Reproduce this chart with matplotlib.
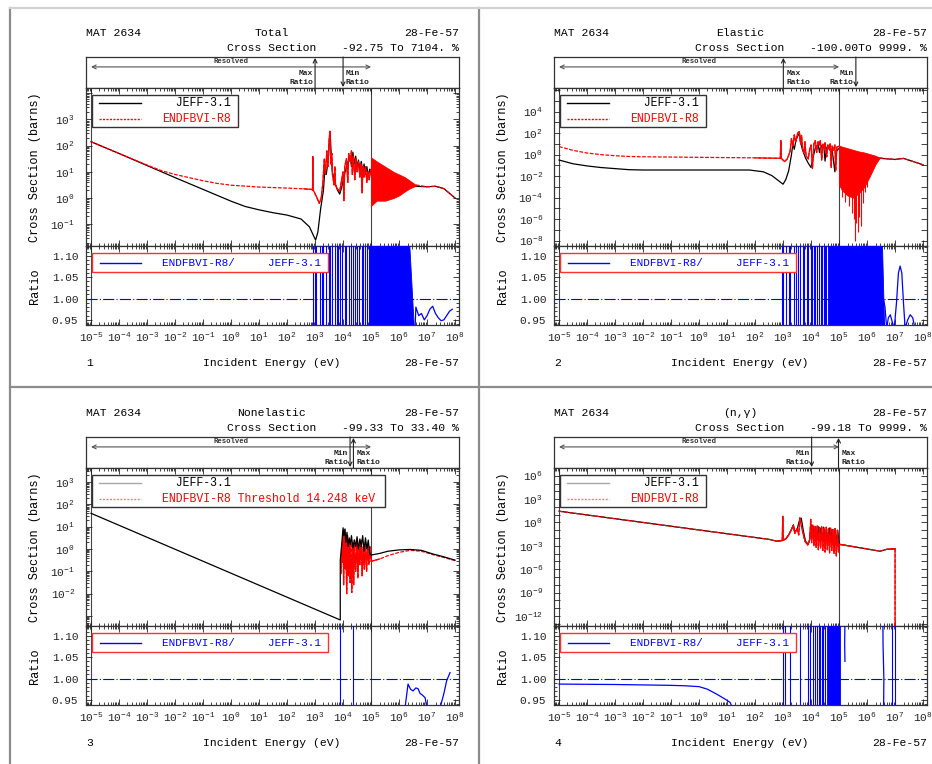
import numpy as np
import matplotlib
matplotlib.use("Agg")
import matplotlib.pyplot as plt
import matplotlib.ticker as mticker
from matplotlib.patches import Rectangle
from matplotlib.lines import Line2D

plt.rcParams['font.family'] = ['Liberation Mono', 'DejaVu Sans Mono', 'DejaVu Sans']
plt.rcParams['mathtext.fontset'] = 'custom'
plt.rcParams['mathtext.rm'] = 'Liberation Mono'
plt.rcParams['mathtext.it'] = 'Liberation Mono'
plt.rcParams['mathtext.bf'] = 'Liberation Mono:bold'

# ---------------------------------------------------------------- data
# all pairs are (log10 E [eV], log10 value)
# Panel 1 : Total
tot_jeff = [(-5.0, 2.15), (-4.0, 1.70), (-3.0, 1.24), (-2.0, 0.78), (-1.0, 0.33), (0.0, -0.12),
            (0.5, -0.32), (1.0, -0.45), (1.5, -0.56), (2.0, -0.65), (2.5, -0.8), (2.8, -1.1),
            (2.95, -1.45), (3.02, -1.6), (3.1, -1.3), (3.2, -0.4), (3.3, 0.3), (3.35, 1.1),
            (3.4, 0.9), (3.45, 1.3), (3.5, 2.0), (3.54, 2.45), (3.58, 1.6), (3.62, 1.0),
            (3.7, 0.6), (3.8, 0.3), (3.88, 0.15), (3.95, 0.4), (4.05, 0.9), (4.15, 1.3),
            (4.25, 1.6), (4.3, 1.2), (4.35, 1.75), (4.4, 1.3), (4.45, 1.6), (4.5, 1.2),
            (4.55, 1.45), (4.6, 1.1), (4.65, 1.4), (4.7, 1.0), (4.75, 1.3), (4.8, 0.9),
            (4.85, 1.2), (4.9, 0.8), (4.95, 1.1), (5.0, 1.0), (5.5, 0.85), (6.0, 0.7),
            (6.5, 0.45), (7.0, 0.43), (7.3, 0.45), (7.6, 0.36), (8.0, 0.0)]
tot_endf = [(-5.0, 2.15), (-4.0, 1.70), (-3.0, 1.26), (-2.5, 1.05), (-2.0, 0.9), (-1.5, 0.78),
            (-1.0, 0.66), (-0.5, 0.56), (0.0, 0.49), (1.0, 0.42), (2.0, 0.38), (2.6, 0.35),
            (2.88, 0.33), (2.91, 0.3), (2.92, 1.58), (2.93, 0.3), (2.96, 0.25), (3.05, 0.05),
            (3.15, -0.2), (3.22, 0.0), (3.28, 0.6), (3.33, 1.5), (3.37, 0.9), (3.42, 1.8),
            (3.46, 1.2), (3.5, 2.2), (3.53, 2.55), (3.56, 1.3), (3.6, 1.7), (3.62, 0.9),
            (3.68, 0.5), (3.71, 1.2), (3.73, 0.5), (3.8, 0.35), (3.88, 0.25), (3.95, 0.7),
            (4.0, 1.0), (4.03, -0.1), (4.06, 1.2), (4.12, 1.5), (4.17, 0.6), (4.2, 1.7),
            (4.25, 1.4), (4.3, 1.8), (4.33, 0.9), (4.37, 1.6), (4.42, 0.7), (4.46, 1.5),
            (4.5, 1.0), (4.55, 1.4), (4.6, 0.8), (4.64, 1.3), (4.68, 0.2), (4.71, 1.2),
            (4.75, 0.8), (4.8, 1.2), (4.85, 0.6), (4.89, 1.0), (4.93, 0.7), (5.0, 1.1)]
tot_endf_band_E = [5.0, 5.2, 5.5, 5.8, 6.0, 6.2, 6.4, 6.6]
tot_endf_band_hi = [1.55, 1.4, 1.2, 1.0, 0.9, 0.8, 0.65, 0.5]
tot_endf_band_lo = [-0.3, -0.1, -0.1, 0.0, 0.1, 0.25, 0.38, 0.47]
tot_endf_tail = [(6.6, 0.5), (7.0, 0.43), (7.3, 0.45), (7.6, 0.36), (8.0, 0.0)]
tot_ratio_spikes = [2.94, 2.98, 3.05, 3.18, 3.24, 3.3, 3.38, 3.48, 3.55, 3.62, 3.7, 3.77,
                    3.83, 3.9, 3.97, 4.07, 4.12, 4.2, 4.28, 4.37, 4.42, 4.5, 4.58, 4.67,
                    4.72, 4.8, 4.86, 4.92]
tot_ratio_block = [4.96, 6.32, 6.57]          # start, end at top, end at bottom
tot_ratio_tail = [(6.57, 0.93), (6.6, 0.98), (6.7, 0.96), (6.8, 0.965), (6.9, 0.95),
                  (7.0, 0.96), (7.1, 0.975), (7.2, 0.982), (7.3, 0.965), (7.4, 0.955),
                  (7.5, 0.948), (7.6, 0.95), (7.7, 0.96), (7.8, 0.97), (7.9, 0.975)]

# Panel 2 : Elastic
el_jeff = [(-5.0, -0.5), (-4.5, -0.85), (-4.0, -1.05), (-3.5, -1.2), (-3.0, -1.3), (-2.5, -1.4),
           (-2.0, -1.43), (0.0, -1.43), (1.8, -1.43), (2.3, -1.6), (2.6, -1.95), (2.85, -2.45),
           (3.0, -2.75), (3.1, -2.3), (3.2, -1.5), (3.3, 0.0), (3.35, 1.0), (3.4, 0.5),
           (3.45, 1.2), (3.5, 1.6), (3.58, 2.0), (3.62, 1.2), (3.7, 0.4), (3.8, -0.3),
           (3.9, -0.8), (4.0, -1.2), (4.05, -0.5), (4.15, 0.6), (4.25, 1.0), (4.3, 0.2),
           (4.35, 0.9), (4.4, 0.6), (4.45, 0.9), (4.5, -0.6), (4.55, 0.6), (4.6, 0.8),
           (4.7, 0.3), (4.75, 0.5), (4.85, -1.6), (4.9, 0.3), (5.0, 0.6), (5.5, 0.1),
           (6.0, -0.15), (6.5, -0.35), (7.0, -0.45), (7.3, -0.35), (7.6, -0.6), (8.0, -0.95)]
el_endf = [(-5.0, 0.75), (-4.5, 0.4), (-4.0, 0.15), (-3.5, 0.0), (-3.0, -0.1), (-2.5, -0.17),
           (-2.0, -0.2), (0.0, -0.25), (2.0, -0.3), (2.9, -0.34), (2.92, 1.3), (2.94, -0.36),
           (2.98, -0.45), (3.05, -0.65), (3.15, -0.4), (3.25, 0.3), (3.3, 1.5), (3.35, 0.8),
           (3.4, 1.84), (3.45, 1.2), (3.52, 2.0), (3.58, 2.15), (3.63, 1.0), (3.66, 1.8),
           (3.7, 0.5), (3.75, 0.2), (3.78, 1.2), (3.82, -0.1), (3.9, -0.4), (3.95, 0.5),
           (4.0, 0.9), (4.05, -1.3), (4.1, 1.0), (4.15, 1.3), (4.2, 0.2), (4.25, 1.2),
           (4.3, 0.9), (4.33, 1.3), (4.38, -0.5), (4.42, 1.0), (4.48, 0.6), (4.5, 1.1),
           (4.56, -0.2), (4.6, 0.9), (4.65, 0.5), (4.68, 1.0), (4.72, -1.2), (4.75, 0.8),
           (4.8, 0.4), (4.85, 0.9), (4.88, -1.5), (4.92, 0.7), (5.0, 0.8)]
el_endf_band_E = [5.0, 5.1, 5.3, 5.5, 5.7, 5.9, 6.1, 6.3, 6.45]
el_endf_band_hi = [0.85, 0.75, 0.6, 0.45, 0.3, 0.2, 0.05, -0.1, -0.3]
el_endf_band_lo = [-2.8, -3.3, -3.8, -4.0, -3.6, -3.0, -2.0, -0.9, -0.3]
el_endf_dips = [(5.12, -3.9), (5.22, -4.4), (5.35, -4.8), (5.45, -5.4), (5.52, -6.0),
                (5.57, -8.0), (5.62, -6.4), (5.66, -7.2), (5.72, -5.8), (5.78, -6.6),
                (5.85, -4.5), (5.92, -3.5), (6.0, -3.0)]
el_endf_tail = [(6.45, -0.3), (6.8, -0.4), (7.0, -0.45), (7.3, -0.35), (7.6, -0.6), (8.0, -0.95)]
el_ratio_spikes = [2.95, 3.0, 3.1, 3.2, 3.25, 3.4, 3.45, 3.55, 3.6, 3.7, 3.75, 3.85, 3.9,
                   4.0, 4.05, 4.1, 4.15, 4.2, 4.3, 4.35, 4.4, 4.45, 4.5, 4.55]
el_ratio_block = [4.62, 6.52, 6.64]
el_ratio_tail = [(6.58, 1.0), (6.64, 0.98), (6.7, 0.93), (6.76, 0.955), (6.83, 0.962),
                 (6.9, 0.945), (6.97, 0.93), (7.05, 0.99), (7.12, 1.06), (7.18, 1.076),
                 (7.24, 1.06), (7.3, 0.99), (7.36, 0.93), (7.45, 0.95), (7.54, 0.962),
                 (7.63, 0.955), (7.71, 0.93)]

# Panel 3 : Nonelastic
ne_jeff = [(-5.0, 1.6), (3.9, -3.18), (3.9, -0.5), (3.93, -0.1), (3.97, 0.5), (4.0, 0.95),
           (4.03, 0.6), (4.07, 0.9), (4.1, 0.3), (4.14, 0.75), (4.18, 0.1), (4.22, 0.5),
           (4.26, 0.2), (4.3, 0.6), (4.35, 0.05), (4.4, 0.4), (4.45, 0.1), (4.5, 0.55),
           (4.55, 0.0), (4.6, 0.45), (4.65, 0.1), (4.7, 0.6), (4.75, -0.1), (4.8, 0.5),
           (4.85, 0.0), (4.9, 0.4), (4.95, -0.2), (5.0, -0.27), (5.3, -0.2), (5.6, -0.1),
           (6.0, -0.04), (6.4, -0.02), (6.8, -0.06), (7.2, -0.22), (7.6, -0.35), (8.0, -0.5)]
ne_endf = [(3.93, -1.1), (3.95, 0.2), (3.97, -0.6), (4.0, 0.8), (4.02, -1.6), (4.05, 0.85),
           (4.08, -0.9), (4.1, 0.5), (4.13, -2.0), (4.16, 0.6), (4.19, -1.2), (4.22, 0.3),
           (4.25, -1.5), (4.28, 0.4), (4.31, -1.95), (4.35, 0.2), (4.38, -1.6), (4.41, 0.4),
           (4.45, -1.0), (4.5, 0.3), (4.53, -1.3), (4.57, 0.2), (4.6, -0.7), (4.65, 0.4),
           (4.68, -1.2), (4.72, 0.1), (4.76, -0.9), (4.8, 0.3), (4.84, -1.0), (4.88, 0.2),
           (4.92, -0.7), (4.96, 0.1), (5.0, -0.55), (5.3, -0.45), (5.6, -0.3), (6.0, -0.15),
           (6.4, -0.06), (6.8, -0.1), (7.2, -0.25), (7.6, -0.38), (8.0, -0.52)]
ne_ratio_spikes = [3.9, 4.37]
ne_ratio_tail1 = [(6.21, 0.93), (6.32, 0.987), (6.41, 0.975), (6.5, 0.971), (6.6, 0.978),
                  (6.68, 0.976), (6.75, 0.965), (6.82, 0.962), (6.93, 0.955), (7.0, 0.93)]
ne_ratio_tail2 = [(7.46, 0.93), (7.6, 0.965), (7.7, 0.995), (7.82, 1.014)]

# Panel 4 : (n,gamma)
cap_jeff = [(-5.0, 1.45), (2.5, -2.17), (2.77, -2.4), (2.95, -2.3), (3.1, -2.1), (3.2, -1.6),
            (3.3, -0.9), (3.37, -0.3), (3.42, -1.2), (3.5, -0.9), (3.58, 0.2), (3.65, 0.55),
            (3.72, -1.0), (3.8, -2.4), (3.9, -2.8), (3.95, -2.2), (4.0, -0.3), (4.04, -2.0),
            (4.08, -0.5), (4.12, -2.3), (4.16, -0.6), (4.2, -2.0), (4.25, -0.5), (4.3, -2.3),
            (4.35, -0.7), (4.4, -2.2), (4.45, -0.6), (4.5, -2.5), (4.55, -0.8), (4.6, -2.3),
            (4.65, -0.7), (4.7, -2.6), (4.75, -0.9), (4.8, -2.4), (4.85, -0.8), (4.9, -2.5),
            (4.95, -1.0), (5.0, -2.8), (5.5, -3.1), (6.0, -3.4), (6.46, -3.69), (6.7, -3.45),
            (7.0, -3.38)]
cap_endf = [(-5.0, 1.45), (2.5, -2.17), (2.77, -2.4), (2.97, -2.35), (2.99, 0.8), (3.01, -2.3),
            (3.1, -2.1), (3.2, -1.6), (3.3, -0.9), (3.36, -0.4), (3.42, -1.4), (3.5, -0.8),
            (3.56, -1.6), (3.6, 0.6), (3.64, -0.2), (3.7, -1.2), (3.78, -2.4), (3.88, -2.9),
            (3.95, -2.2), (3.99, 0.4), (4.02, -2.6), (4.06, -0.3), (4.1, -3.0), (4.14, -0.5),
            (4.18, -3.2), (4.22, -0.4), (4.26, -3.5), (4.3, -0.6), (4.34, -3.3), (4.38, -0.5),
            (4.42, -3.6), (4.46, -0.7), (4.5, -3.8), (4.54, -0.6), (4.58, -3.5), (4.62, -0.8),
            (4.66, -3.9), (4.7, -0.7), (4.74, -3.6), (4.78, -0.9), (4.82, -4.0), (4.86, -0.8),
            (4.9, -4.3), (4.94, -1.0), (4.98, -3.8), (5.0, -2.8), (5.5, -3.1), (6.0, -3.4),
            (6.46, -3.69), (6.7, -3.45), (7.0, -3.38), (7.0, -20.0)]
cap_ratio_curve = [(-5.0, 0.987), (-3.0, 0.986), (-2.0, 0.985), (-1.0, 0.984), (-0.5, 0.983),
                   (0.0, 0.981), (0.3, 0.975), (0.64, 0.963), (0.9, 0.953), (1.11, 0.944),
                   (1.2, 0.93)]
cap_ratio_spikes = [2.99, 3.07, 3.25, 3.61, 3.89, 3.96, 4.06, 4.14, 4.2, 4.27, 4.32, 4.39,
                    4.44, 4.49, 6.88, 7.0]
cap_ratio_block = [4.56, 5.04, 5.04]
cap_ratio_arc1 = [(5.22, 1.2), (5.2, 1.08), (5.21, 1.04)]
cap_ratio_arc2 = [(6.56, 1.2), (6.57, 1.08), (6.6, 1.0), (6.59, 0.93)]

# panel header strings and annotation positions
reactions = ['Total', 'Elastic', 'Nonelastic', '(n,\u03b3)']
ranges = ['-92.75 To 7104. %', '-100.00To 9999. %', '-99.33 To 33.40 %', '-99.18 To 9999. %']
max_ratio_E = [3.0, 3.01, 4.37, 4.98]
min_ratio_E = [4.0, 5.6, 4.25, 4.02]
resolved_E = [-5.0, 5.0]

# ---------------------------------------------------------------- helpers
W, H = 932, 764
fig = plt.figure(figsize=(W / 100, H / 100), dpi=100)
fig.patch.set_facecolor('white')

XLIM = (10 ** -5.18, 10 ** 8.14)
RLIM = (0.938, 1.123)
RED, BLUE = '#ff0000', '#0000ff'


def add_ax(x0, y0, x1, y1, z=1):
    return fig.add_axes([x0 / W, 1 - y1 / H, (x1 - x0) / W, (y1 - y0) / H], zorder=z)


def ftext(x, y, s, ha='left', size=8.2, **kw):
    fig.text(x / W, 1 - y / H, s, ha=ha, va='center', fontsize=size, **kw)


def xy(pairs):
    a = np.array(pairs, dtype=float)
    return 10 ** a[:, 0], a[:, 1]


def logxy(pairs):
    x, y = xy(pairs)
    return x, 10 ** y


# background frame
bg = fig.add_axes([0, 0, 1, 1], zorder=-10)
bg.set_xlim(0, W)
bg.set_ylim(H, 0)
bg.axis('off')
bg.plot([10, 10], [8, H], color='#8c8c8c', lw=1.6)
bg.plot([479, 479], [8, H], color='#8c8c8c', lw=1.6)
bg.plot([10, W], [387, 387], color='#8c8c8c', lw=1.6)
bg.plot([10, W], [8, 8], color='#d2d2d2', lw=1.6)


def setup_x(ax):
    ax.set_xscale('log')
    ax.set_xlim(*XLIM)
    ax.xaxis.set_major_locator(mticker.FixedLocator([10.0 ** k for k in range(-5, 9)]))
    ax.xaxis.set_minor_locator(mticker.LogLocator(base=10, subs=np.arange(2, 10), numticks=200))
    ax.xaxis.set_minor_formatter(mticker.NullFormatter())


def build(i, dx, dy, ylog, ylab, yminor, max_txt_side, min_txt_side, endf_label, leg_w, grey_leg):
    L, R = 86 + dx, 459 + dx
    axt = add_ax(L, 57 + dy, R, 88 + dy)
    axm = add_ax(L, 88 + dy, R, 246 + dy)
    axr = add_ax(L, 246 + dy, R, 325 + dy)

    # header / footer texts
    ftext(L, 33 + dy, 'MAT 2634')
    ftext(L + 186, 33 + dy, reactions[i], ha='center')
    ftext(R, 33 + dy, '28-Fe-57', ha='right')
    ftext(L + 186, 48 + dy, 'Cross Section', ha='center')
    ftext(R, 48 + dy, ranges[i], ha='right')
    ftext(L, 363 + dy, str(i + 1))
    ftext(L + 186, 363 + dy, 'Incident Energy (eV)', ha='center')
    ftext(R, 363 + dy, '28-Fe-57', ha='right')
    ftext(35 + dx, 167 + dy, 'Cross Section (barns)', ha='center', rotation=90, size=8.6)
    ftext(35 + dx, 286 + dy, 'Ratio', ha='center', rotation=90, size=8.6)

    # --- top annotation box
    axt.set_xscale('log')
    axt.set_xlim(*XLIM)
    axt.set_ylim(0, 1)
    axt.xaxis.set_major_locator(mticker.NullLocator())
    axt.xaxis.set_minor_locator(mticker.NullLocator())
    axt.set_yticks([])
    for s in axt.spines.values():
        s.set_color('#333333')
        s.set_linewidth(0.9)
    axt.annotate('', xy=(10 ** resolved_E[0], 0.68), xytext=(10 ** resolved_E[1], 0.68),
                 arrowprops=dict(arrowstyle='<->', color='#555555', lw=0.8,
                                 shrinkA=0, shrinkB=0, mutation_scale=7))
    axt.text(10 ** np.mean(resolved_E), 0.86, 'Resolved', ha='center', va='center',
             fontsize=5.2, fontweight='bold', color='#333333')
    emax, emin = 10 ** max_ratio_E[i], 10 ** min_ratio_E[i]
    axt.annotate('', xy=(emax, 0.97), xytext=(emax, 0.0),
                 arrowprops=dict(arrowstyle='->', color='#222222', lw=0.8,
                                 shrinkA=0, shrinkB=0, mutation_scale=7))
    axt.annotate('', xy=(emin, 0.03), xytext=(emin, 1.0),
                 arrowprops=dict(arrowstyle='->', color='#222222', lw=0.8,
                                 shrinkA=0, shrinkB=0, mutation_scale=7))
    for e, word, side in ((emax, 'Max', max_txt_side), (emin, 'Min', min_txt_side)):
        f = 10 ** (0.1 if side == 'right' else -0.08)
        ha = 'left' if side == 'right' else 'right'
        axt.text(e * f, 0.47, word, ha=ha, va='center', fontsize=5.8, fontweight='bold',
                 color='#222222')
        axt.text(e * f, 0.17, 'Ratio', ha=ha, va='center', fontsize=5.8, fontweight='bold',
                 color='#222222')

    # --- main and ratio axes common style
    for ax in (axm, axr):
        setup_x(ax)
        ax.tick_params(which='both', direction='in', top=True, right=True, colors='#222222',
                       width=0.6, labelsize=8)
        ax.tick_params(which='major', length=4)
        ax.tick_params(which='minor', length=2)
        for s in ax.spines.values():
            s.set_color('#333333')
            s.set_linewidth(0.9)
        for e in resolved_E:
            ax.axvline(10 ** e, color='#444444', lw=0.8, zorder=1)
    axm.tick_params(labelbottom=False)

    axm.set_yscale('log')
    axm.set_ylim(10 ** ylog[0], 10 ** ylog[1])
    ks = list(range(int(np.ceil(ylog[0])), int(np.floor(ylog[1])) + 1))
    axm.yaxis.set_major_locator(mticker.FixedLocator([10.0 ** k for k in ks]))
    axm.yaxis.set_major_formatter(mticker.FixedFormatter(
        [r'$\mathregular{10^{%d}}$' % k if k in ylab else '' for k in ks]))
    if yminor:
        axm.yaxis.set_minor_locator(mticker.LogLocator(base=10, subs=np.arange(2, 10), numticks=200))
    else:
        axm.yaxis.set_minor_locator(mticker.NullLocator())
    axm.yaxis.set_minor_formatter(mticker.NullFormatter())
    axm.tick_params(axis='y', which='major', pad=8)

    axr.set_ylim(*RLIM)
    axr.yaxis.set_major_locator(mticker.FixedLocator([0.95, 1.00, 1.05, 1.10]))
    axr.yaxis.set_major_formatter(mticker.FixedFormatter(['0.95', '1.00', '1.05', '1.10']))
    axr.yaxis.set_minor_locator(mticker.MultipleLocator(0.01))
    axr.tick_params(axis='y', which='major', pad=5.5)
    axr.xaxis.set_major_formatter(mticker.FixedFormatter(
        [r'$\mathregular{10^{%d}}$' % k for k in range(-5, 9)]))
    axr.tick_params(axis='x', which='major', pad=4)
    axr.axhline(1.0, color=BLUE, lw=0.8, dashes=(10, 2, 1, 2), zorder=2)

    # --- legends
    lc1 = '#a8a8a8' if grey_leg else 'black'
    lc2 = '#f08080' if grey_leg else RED
    axm.add_patch(Rectangle((0.016, 0.753), leg_w, 0.203, transform=axm.transAxes,
                            facecolor='white', edgecolor='#333333', lw=1.0, zorder=10))
    axm.add_line(Line2D([0.035, 0.147], [0.905, 0.905], transform=axm.transAxes,
                        color=lc1, lw=1.0, zorder=11))
    axm.add_line(Line2D([0.035, 0.147], [0.805, 0.805], transform=axm.transAxes,
                        color=lc2, lw=1.0, dashes=(1.5, 1), zorder=11))
    axm.text(0.204, 0.905, '  JEFF-3.1', transform=axm.transAxes, ha='left', va='center',
             fontsize=8.3, zorder=12)
    axm.text(0.204, 0.805, endf_label, transform=axm.transAxes, ha='left', va='center',
             fontsize=8.3, color=RED, zorder=12)
    axr.add_patch(Rectangle((0.016, 0.671), 0.633, 0.24, transform=axr.transAxes,
                            facecolor='white', edgecolor='#ff3030', lw=1.0, zorder=10))
    axr.add_line(Line2D([0.0375, 0.147], [0.79, 0.79], transform=axr.transAxes,
                        color=BLUE, lw=1.0, zorder=11))
    axr.text(0.204, 0.79, 'ENDFBVI-R8/     JEFF-3.1', transform=axr.transAxes, ha='left',
             va='center', fontsize=7.9, color=BLUE, zorder=12)
    return axm, axr


def plot_jeff(ax, pairs, z=3):
    x, y = logxy(pairs)
    ax.plot(x, y, color='black', lw=0.9, zorder=z)


def plot_endf(ax, pairs, solid=((2.85, 5.0),)):
    """dotted red curve; resonance ranges drawn solid on top"""
    x, y = logxy(pairs)
    ax.plot(x, y, color=RED, lw=0.9, dashes=(3, 1.2), zorder=4)
    le = np.log10(x)
    for lo, hi in solid:
        idx = np.where((le >= lo) & (le <= hi))[0]
        if len(idx) == 0:
            continue
        a, b = max(idx[0] - 1, 0), min(idx[-1] + 2, len(x))
        ax.plot(x[a:b], y[a:b], color=RED, lw=0.9, zorder=4)


def plot_band(ax, E, lo, hi):
    ax.fill_between(10 ** np.array(E), 10 ** np.array(lo), 10 ** np.array(hi),
                    color=RED, lw=0.6, zorder=4)


def ratio_spikes(ax, E):
    ax.vlines(10 ** np.array(E), 0.9, 1.2, color=BLUE, lw=0.8, zorder=3)


def ratio_block(ax, blk):
    ax.fill([10 ** blk[0], 10 ** blk[1], 10 ** blk[2], 10 ** blk[0]],
            [1.2, 1.2, 0.9, 0.9], color=BLUE, lw=0.6, zorder=3)


def ratio_line(ax, pairs):
    x, y = xy(pairs)
    ax.plot(x, y, color=BLUE, lw=0.9, zorder=3)


# ---------------------------------------------------------------- panel 1
axm, axr = build(0, 0, 0, (-1.83, 4.2), [-1, 0, 1, 2, 3], True, 'left', 'right',
                 'ENDFBVI-R8', 0.392, False)
plot_jeff(axm, tot_jeff)
plot_endf(axm, tot_endf)
plot_band(axm, tot_endf_band_E, tot_endf_band_lo, tot_endf_band_hi)
plot_endf(axm, tot_endf_tail, solid=())
ratio_spikes(axr, tot_ratio_spikes)
ratio_block(axr, tot_ratio_block)
ratio_line(axr, tot_ratio_tail)

# ---------------------------------------------------------------- panel 2
axm, axr = build(1, 468, 0, (-8.5, 6.2), [-8, -6, -4, -2, 0, 2, 4], False, 'right', 'left',
                 'ENDFBVI-R8', 0.392, False)
plot_jeff(axm, el_jeff)
plot_endf(axm, el_endf)
plot_band(axm, el_endf_band_E, el_endf_band_lo, el_endf_band_hi)
dx_, dy_ = xy(el_endf_dips)
axm.vlines(dx_, 10 ** dy_, 10 ** -1.0, color=RED, lw=0.8, zorder=4)
plot_endf(axm, el_endf_tail, solid=())
ratio_spikes(axr, el_ratio_spikes)
ratio_block(axr, el_ratio_block)
ratio_line(axr, el_ratio_tail)

# ---------------------------------------------------------------- panel 3
axm, axr = build(2, 0, 380, (-3.45, 3.63), [-2, -1, 0, 1, 2, 3], True, 'right', 'left',
                 'ENDFBVI-R8 Threshold 14.248 keV', 0.786, True)
plot_endf(axm, ne_endf, solid=((3.9, 5.0),))
plot_jeff(axm, ne_jeff, z=5)
ratio_spikes(axr, ne_ratio_spikes)
ratio_line(axr, ne_ratio_tail1)
ratio_line(axr, ne_ratio_tail2)

# ---------------------------------------------------------------- panel 4
axm, axr = build(3, 468, 380, (-13.3, 7.0), [-12, -9, -6, -3, 0, 3, 6], False, 'right', 'left',
                 'ENDFBVI-R8', 0.392, True)
plot_jeff(axm, cap_jeff)
plot_endf(axm, cap_endf, solid=((2.85, 5.0), (6.99, 7.01)))
ratio_line(axr, cap_ratio_curve)
ratio_spikes(axr, cap_ratio_spikes)
ratio_block(axr, cap_ratio_block)
ratio_line(axr, cap_ratio_arc1)
ratio_line(axr, cap_ratio_arc2)

fig.savefig('out.png', dpi=100)
